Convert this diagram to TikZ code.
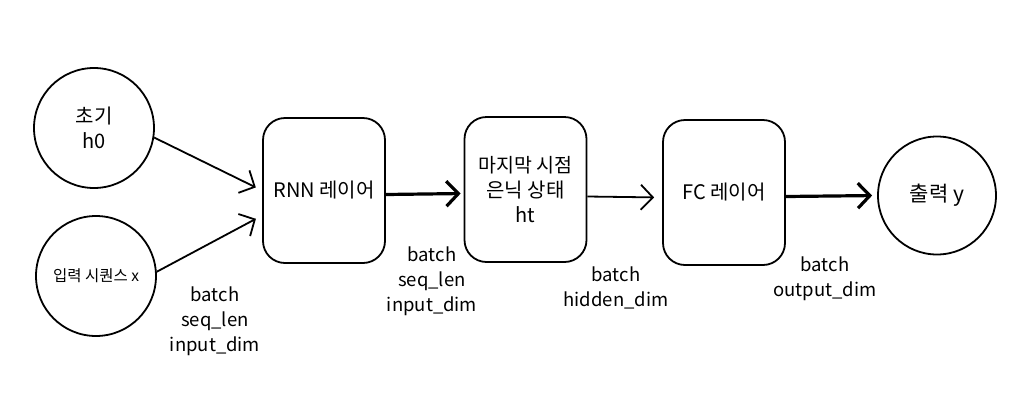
\documentclass[tikz,border=0pt]{standalone}
\usepackage{fontspec}
\setmainfont{Noto Sans CJK KR}
\usetikzlibrary{arrows.meta,calc}
\begin{document}
\begin{tikzpicture}[x=1pt,y=-1pt,
  every node/.style={font=\fontsize{20}{25}\selectfont, align=center},
  circ/.style={draw,circle,line width=1.8pt,minimum size=120pt,inner sep=0pt},
  boxn/.style={draw,rectangle,rounded corners=22pt,line width=1.8pt,minimum width=122pt,minimum height=145pt},
  arr/.style={line width=1.8pt,-{Straight Barb[length=12pt,width=25pt]}},
  arrthick/.style={arr,line width=3.2pt},
  dimlabel/.style={font=\fontsize{18.5}{25}\selectfont}]
\useasboundingbox (0,0) rectangle (1036,413);
\fill[white] (0,0) rectangle (1036,413);

\node[circ] (h0) at (94,128) {\fontsize{20}{23}\selectfont 초기\\h0};
\node[circ] (x) at (96,276) {\fontsize{15.5}{18}\selectfont 입력 시퀀스 x};
\node[boxn] (rnn) at (324,190.5) {RNN 레이어};
\node[boxn] (ht) at (525.5,189.5) {\fontsize{19.5}{25}\selectfont 마지막 시점\\은닉 상태\\ht};
\node[boxn] (fc) at (724,192.5) {FC 레이어};
\node[circ,minimum size=118pt] (y) at (937,195.5) {\fontsize{21}{24}\selectfont 출력 y};

\draw[arr,shorten >=7pt] (h0.-9) -- (rnn.west);
\draw[arr,shorten >=7pt] (x.4) -- ([yshift=-25pt]rnn.west);
\draw[arrthick,shorten >=3pt] ([yshift=-4pt]rnn.east) -- ([yshift=-4pt]ht.west);
\draw[arr,shorten >=8pt] ([yshift=-7pt]ht.east) -- ([yshift=-5pt]fc.west);
\draw[arrthick,shorten >=5pt] ([yshift=-4pt]fc.east) -- (y.west);

\node[dimlabel] (l1) at (215,321) {batch\\seq\_len\\input\_dim};
\node[dimlabel] (l2) at (432,281) {batch\\seq\_len\\input\_dim};
\node[dimlabel] (l3) at (616,288) {batch\\hidden\_dim};
\node[dimlabel] (l4) at (825,279) {batch\\output\_dim};
\end{tikzpicture}
\end{document}
